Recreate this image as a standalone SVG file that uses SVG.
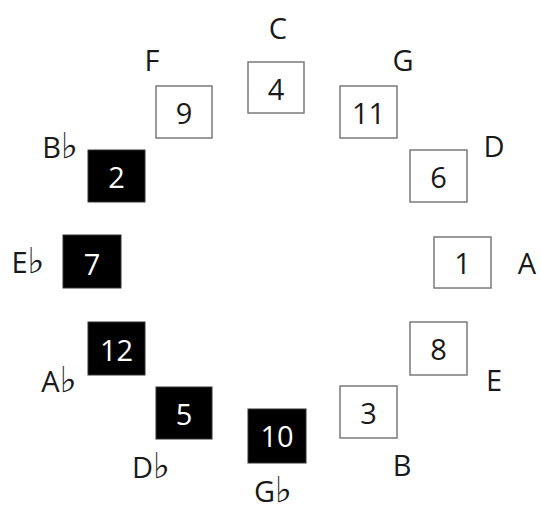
<svg xmlns="http://www.w3.org/2000/svg" width="541" height="508" viewBox="0 0 541 508">
<style>
.box{fill:#fff;stroke:#7a7a7a;stroke-width:1.5}
.dark{fill:#000;stroke:#333;stroke-width:1}
text{font-family:"Open Sans","DejaVu Sans",sans-serif;font-size:29px;text-anchor:middle}
.num{fill:#1a1a1a}
.wnum{fill:#fff}
.lbl{fill:#1a1a1a}
.flat{font-family:"DejaVu Sans",sans-serif;font-size:36px}
</style>
<rect width="541" height="508" fill="#fff"/>
<g id="node-C"><rect class="box" x="248" y="62" width="56" height="51"/><text class="num" x="276" y="100">4</text><text class="lbl" x="278" y="39">C</text></g>
<g id="node-G"><rect class="box" x="340" y="86" width="57" height="52"/><text class="num" x="368.5" y="124">11</text><text class="lbl" x="403" y="71">G</text></g>
<g id="node-D"><rect class="box" x="410" y="150" width="57" height="52"/><text class="num" x="438.5" y="188">6</text><text class="lbl" x="494" y="157">D</text></g>
<g id="node-A"><rect class="box" x="434" y="237" width="57" height="51"/><text class="num" x="462.5" y="274">1</text><text class="lbl" x="527" y="274">A</text></g>
<g id="node-E"><rect class="box" x="410" y="322" width="57" height="53"/><text class="num" x="438.5" y="360">8</text><text class="lbl" x="494" y="391">E</text></g>
<g id="node-B"><rect class="box" x="340" y="386" width="57" height="52"/><text class="num" x="368.5" y="424">3</text><text class="lbl" x="402" y="476">B</text></g>
<g id="node-Gb"><rect class="dark" x="248" y="409" width="58" height="54"/><text class="wnum" x="277" y="447">10</text><text class="lbl" x="273" y="502">G<tspan class="flat">♭</tspan></text></g>
<g id="node-Db"><rect class="dark" x="156" y="387" width="56" height="52"/><text class="wnum" x="184" y="425">5</text><text class="lbl" x="151" y="478">D<tspan class="flat">♭</tspan></text></g>
<g id="node-Ab"><rect class="dark" x="88" y="322" width="57" height="53"/><text class="wnum" x="116.5" y="361">12</text><text class="lbl" x="59" y="392">A<tspan class="flat">♭</tspan></text></g>
<g id="node-Eb"><rect class="dark" x="63" y="235" width="58" height="53"/><text class="wnum" x="92" y="275">7</text><text class="lbl" x="28" y="273">E<tspan class="flat">♭</tspan></text></g>
<g id="node-Bb"><rect class="dark" x="88" y="150" width="57" height="52"/><text class="wnum" x="116.5" y="188">2</text><text class="lbl" x="60" y="158">B<tspan class="flat">♭</tspan></text></g>
<g id="node-F"><rect class="box" x="156" y="86" width="56" height="52"/><text class="num" x="184" y="124">9</text><text class="lbl" x="152" y="71">F</text></g>
</svg>
